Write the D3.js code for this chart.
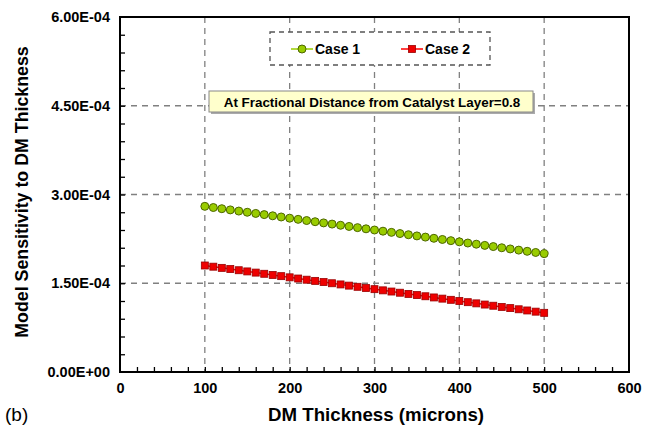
<!DOCTYPE html>
<html><head><meta charset="utf-8">
<script src="https://cdn.jsdelivr.net/npm/d3@7"></script>
<style>body{margin:0;background:#fff}svg{display:block}text{font-family:Arial,"Liberation Sans",sans-serif}</style>
</head><body><svg id="c" width="654" height="427"></svg>
<script>
const thickness = [100,110,120,130,140,150,160,170,180,190,200,210,220,230,240,250,260,270,280,290,300,310,320,330,340,350,360,370,380,390,400,410,420,430,440,450,460,470,480,490,500];
const case1 = [2.800e-4,2.780e-4,2.760e-4,2.740e-4,2.720e-4,2.700e-4,2.680e-4,2.660e-4,2.640e-4,2.620e-4,2.600e-4,2.580e-4,2.560e-4,2.540e-4,2.520e-4,2.500e-4,2.480e-4,2.460e-4,2.440e-4,2.420e-4,2.400e-4,2.380e-4,2.360e-4,2.340e-4,2.320e-4,2.300e-4,2.280e-4,2.260e-4,2.240e-4,2.220e-4,2.200e-4,2.180e-4,2.160e-4,2.140e-4,2.120e-4,2.100e-4,2.080e-4,2.060e-4,2.040e-4,2.020e-4,2.000e-4];
const case2 = [1.800e-4,1.780e-4,1.760e-4,1.740e-4,1.720e-4,1.700e-4,1.680e-4,1.660e-4,1.640e-4,1.620e-4,1.600e-4,1.580e-4,1.560e-4,1.540e-4,1.520e-4,1.500e-4,1.480e-4,1.460e-4,1.440e-4,1.420e-4,1.400e-4,1.380e-4,1.360e-4,1.340e-4,1.320e-4,1.300e-4,1.280e-4,1.260e-4,1.240e-4,1.220e-4,1.200e-4,1.180e-4,1.160e-4,1.140e-4,1.120e-4,1.100e-4,1.080e-4,1.060e-4,1.040e-4,1.020e-4,1.000e-4];
const xTicks = [0,100,200,300,400,500,600];
const yTicks = [0,1.5e-4,3.0e-4,4.5e-4,6.0e-4];
const yTickLabels = ["0.00E+00","1.50E-04","3.00E-04","4.50E-04","6.00E-04"];
const seriesNames = ["Case 1","Case 2"];
const annotation = "At Fractional Distance from Catalyst Layer=0.8";

const svg = d3.select("#c");
const L=120,R=629,T=17,B=372;
const x = d3.scaleLinear().domain([0,600]).range([L,R]);
const y = d3.scaleLinear().domain([0,6e-4]).range([B,T]);

// grid
const g = svg.append("g");
g.selectAll(".gx").data(xTicks.filter(d=>d>0&&d<600)).join("line")
 .attr("x1",d=>x(d)).attr("x2",d=>x(d)).attr("y1",T).attr("y2",B)
 .attr("stroke","#808080").attr("stroke-width",1.3).attr("stroke-dasharray","6,5");
g.selectAll(".gy").data(yTicks.filter(d=>d>0&&d<6e-4)).join("line")
 .attr("x1",L).attr("x2",R).attr("y1",d=>y(d)).attr("y2",d=>y(d))
 .attr("stroke","#808080").attr("stroke-width",1.3).attr("stroke-dasharray","6,5");

// minor ticks inside
const xMinor = d3.range(0,601,20).filter(v=>v>0&&v<600);
svg.append("g").attr("transform",`translate(0,${B})`)
 .call(d3.axisBottom(x).tickValues(xMinor).tickSize(-5).tickFormat(""))
 .call(a=>{a.select(".domain").remove();a.selectAll("line").attr("stroke","#000").attr("stroke-width",1.3);});
const yMinor = d3.range(0,21).map(i=>i*0.3e-4).filter(v=>v>1e-9&&v<5.99e-4);
svg.append("g").attr("transform",`translate(${L},0)`)
 .call(d3.axisLeft(y).tickValues(yMinor).tickSize(-5).tickFormat(""))
 .call(a=>{a.select(".domain").remove();a.selectAll("line").attr("stroke","#000").attr("stroke-width",1.3);});

// tick labels
svg.append("g").attr("transform",`translate(0,${B})`)
 .call(d3.axisBottom(x).tickValues(xTicks).tickSize(0).tickPadding(11).tickFormat(d3.format("d")))
 .call(a=>{a.select(".domain").remove();a.selectAll("text").attr("font-size",14.5).attr("font-weight","bold").attr("fill","#000").attr("font-family","Arial, Liberation Sans, sans-serif");});
svg.append("g").attr("transform",`translate(${L},0)`)
 .call(d3.axisLeft(y).tickValues(yTicks).tickSize(0).tickPadding(10).tickFormat((d,i)=>yTickLabels[i]))
 .call(a=>{a.select(".domain").remove();a.selectAll("text").attr("font-size",14.5).attr("font-weight","bold").attr("fill","#000").attr("font-family","Arial, Liberation Sans, sans-serif");});

// frame
svg.append("rect").attr("x",L).attr("y",T).attr("width",R-L).attr("height",B-T)
 .attr("fill","none").attr("stroke","#000").attr("stroke-width",2);

// series
const line = d3.line().x((d,i)=>x(thickness[i])).y(d=>y(d));
svg.append("path").datum(case1).attr("d",line).attr("fill","none").attr("stroke","#99cc00").attr("stroke-width",1.5);
svg.append("path").datum(case2).attr("d",line).attr("fill","none").attr("stroke","#ff0000").attr("stroke-width",1.5);
svg.append("g").selectAll("circle").data(case1).join("circle")
 .attr("cx",(d,i)=>x(thickness[i])).attr("cy",d=>y(d)).attr("r",4)
 .attr("fill","#99cc00").attr("stroke","#4d6600").attr("stroke-width",1);
svg.append("g").selectAll("rect").data(case2).join("rect")
 .attr("x",(d,i)=>x(thickness[i])-3.5).attr("y",d=>y(d)-3.5).attr("width",7).attr("height",7)
 .attr("fill","#ee0000").attr("stroke","#990000").attr("stroke-width",0.8);

// legend
const lg = svg.append("g");
lg.append("rect").attr("x",270).attr("y",32).attr("width",220).attr("height",33)
 .attr("fill","#fff").attr("stroke","#555").attr("stroke-width",1.3).attr("stroke-dasharray","5,4");
lg.append("line").attr("x1",291).attr("x2",313).attr("y1",49).attr("y2",49).attr("stroke","#99cc00").attr("stroke-width",1.5);
lg.append("circle").attr("cx",302).attr("cy",49).attr("r",4).attr("fill","#99cc00").attr("stroke","#4d6600");
lg.append("text").attr("x",315).attr("y",54).attr("font-size",14).attr("font-weight","bold").text(seriesNames[0]);
lg.append("line").attr("x1",401).attr("x2",423).attr("y1",49).attr("y2",49).attr("stroke","#ff0000").attr("stroke-width",1.5);
lg.append("rect").attr("x",408.5).attr("y",45.5).attr("width",7).attr("height",7).attr("fill","#ee0000").attr("stroke","#990000").attr("stroke-width",0.8);
lg.append("text").attr("x",425).attr("y",54).attr("font-size",14).attr("font-weight","bold").text(seriesNames[1]);

// annotation
svg.append("rect").attr("x",211).attr("y",93).attr("width",324).attr("height",21).attr("fill","#aaa");
svg.append("rect").attr("x",209).attr("y",91).attr("width",324).attr("height",21)
 .attr("fill","#ffffcc").attr("stroke","#888").attr("stroke-width",1);
svg.append("text").attr("x",372).attr("y",106.5).attr("text-anchor","middle").attr("font-size",13.4).attr("font-weight","bold").text(annotation);

// axis titles
svg.append("text").attr("x",376).attr("y",421).attr("text-anchor","middle").attr("font-size",18.7).attr("font-weight","bold").text("DM Thickness (microns)");
svg.append("text").attr("x",5).attr("y",421).attr("font-size",19).text("(b)");
svg.append("text").attr("transform","translate(28,192) rotate(-90)").attr("text-anchor","middle").attr("font-size",17.8).attr("font-weight","bold").text("Model Sensitivity to DM Thickness");
</script></body></html>
